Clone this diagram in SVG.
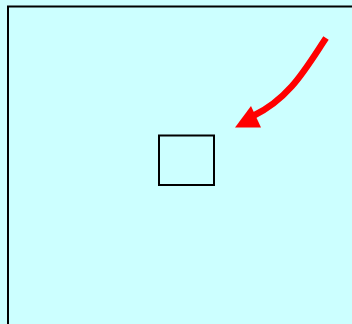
<svg xmlns="http://www.w3.org/2000/svg" width="352" height="324" viewBox="0 0 352 324">
<style>
.frame{fill:none;stroke:#000;stroke-width:2}
.box{fill:none;stroke:#000;stroke-width:2}
.arrow{fill:none;stroke:#ff0000;stroke-width:6.5}
.head{fill:#ff0000}
</style>
<rect x="0" y="0" width="352" height="324" fill="#ccffff"/>
<rect class="frame" x="8" y="6.5" width="350" height="320"/>
<g id="node1"><rect class="box" x="159" y="135.5" width="55" height="49.5"/></g>
<g id="connectors">
<path class="arrow" d="M326,38 C306,68 290,98 253,116"/>
<polygon class="head" points="235,127.5 251,106 261,127.5"/>
</g>
</svg>
